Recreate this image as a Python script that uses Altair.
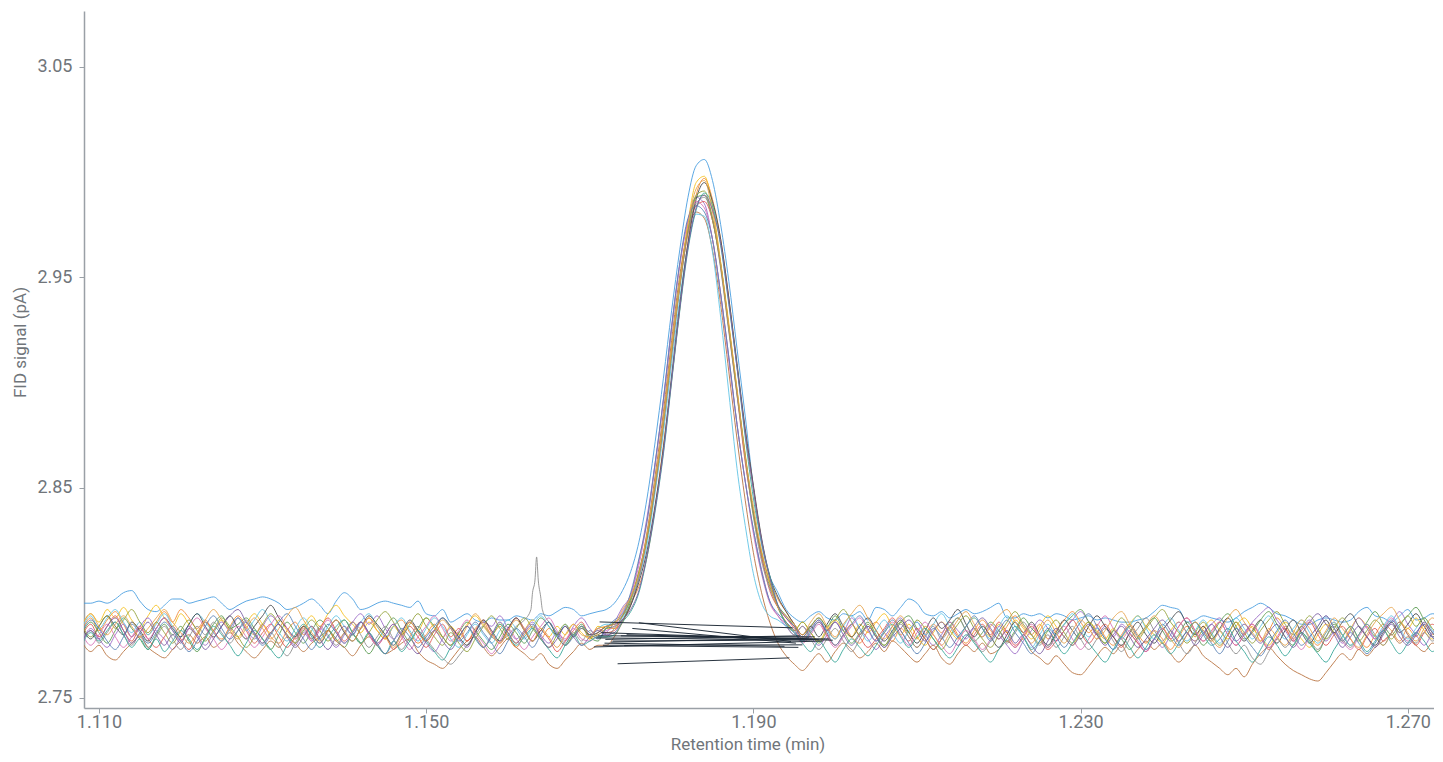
import altair as alt
import pandas as pd

# sampling grid of the chromatograms (min)
T_START = 1.108
T_STEP = 0.001
N_PTS = 167
times = [round(T_START + T_STEP * i, 3) for i in range(N_PTS)]

# FID signal, in units of 0.001 pA above 2.700 pA
tr01 = [95,95,96,95,97,100,101,96,92,91,
        94,97,97,95,96,97,98,95,92,94,
        96,97,98,97,95,92,93,95,97,94,
        90,96,100,97,92,93,95,96,95,94,
        93,96,90,89,92,86,88,90,87,86,
        88,87,87,89,88,87,90,89,91,93,
        92,89,90,91,92,95,101,110,124,145,
        172,202,234,263,288,303,306,296,275,248,
        216,184,150,123,108,100,92,88,86,89,
        91,88,87,90,89,91,87,93,92,89,
        93,97,95,90,89,91,88,90,92,90,
        91,93,95,88,88,90,89,90,88,90,
        89,87,88,89,87,88,87,86,86,87,
        88,91,94,93,92,86,87,89,88,87,
        86,88,91,93,95,93,90,89,87,85,
        85,87,88,87,86,87,91,93,89,88,
        86,89,92,87,88,90,89]
tr02 = [83,88,82,87,91,85,79,84,80,86,
        91,86,92,88,83,87,81,78,84,89,
        84,80,85,79,76,82,86,80,84,78,
        82,77,81,86,83,88,82,78,84,87,
        81,76,80,85,79,75,81,77,83,86,
        80,84,79,74,80,84,78,83,79,75,
        80,84,78,81,84,83,86,95,103,117,
        141,170,201,235,267,289,297,287,268,240,
        208,177,150,125,107,97,91,85,80,84,
        88,83,78,84,79,76,82,86,81,77,
        83,79,74,80,85,81,86,80,76,82,
        87,82,78,84,89,84,80,85,78,82,
        87,91,86,81,85,79,75,80,85,80,
        76,82,78,73,79,84,79,84,78,74,
        80,86,80,84,77,82,88,83,78,84,
        79,75,81,86,80,84,78,74,80,85,
        82,77,83,79,85,80,84]
tr03 = [85,90,86,92,88,93,87,83,89,94,
        88,84,90,85,80,86,82,87,83,79,
        85,90,85,81,87,82,78,84,89,84,
        90,94,89,85,81,86,82,78,84,80,
        86,82,88,83,79,84,80,85,89,84,
        80,85,81,76,82,87,83,79,84,80,
        85,81,78,84,83,83,89,98,109,126,
        152,181,216,247,276,295,298,284,257,228,
        196,164,137,119,105,93,86,82,86,81,
        77,83,87,82,79,85,81,86,90,84,
        80,85,79,75,81,86,82,78,84,88,
        83,79,85,81,87,83,78,84,89,84,
        79,75,81,86,82,78,83,79,85,89,
        84,80,76,82,86,81,77,83,87,82,
        78,84,88,83,79,75,81,86,82,78,
        74,80,85,81,77,83,88,84,79,75,
        81,86,83,88,82,78,84]
tr04 = [77,83,78,74,80,85,79,84,88,82,
        78,73,79,84,80,75,81,86,82,88,
        83,78,84,89,85,80,75,81,77,83,
        79,74,80,86,90,85,89,83,78,82,
        86,81,76,72,78,83,78,74,81,86,
        84,89,83,78,82,86,80,76,81,77,
        84,88,83,79,81,86,93,99,115,136,
        162,192,227,256,277,288,285,268,242,212,
        180,153,130,111,96,89,84,80,84,79,
        75,80,86,82,88,83,78,73,79,84,
        88,83,86,80,75,80,86,82,78,83,
        79,85,80,75,71,77,82,87,83,77,
        82,87,91,86,80,84,79,85,81,76,
        72,78,74,80,86,81,77,81,85,88,
        82,77,81,86,90,93,87,82,77,83,
        87,82,77,81,76,82,88,83,78,82,
        86,91,85,80,75,81,86]
tr05 = [81,86,81,76,82,88,83,78,73,80,
        85,80,84,77,72,79,85,89,83,85,
        88,83,78,73,80,86,81,76,82,87,
        83,78,74,80,76,71,77,83,88,82,
        77,83,88,84,79,75,81,86,82,77,
        73,79,85,81,76,82,88,84,79,75,
        80,85,79,77,83,84,87,96,110,127,
        151,182,214,245,272,288,289,277,256,226,
        195,165,138,117,103,94,89,84,79,84,
        88,84,89,82,76,81,86,80,75,80,
        86,89,83,78,73,78,84,88,82,77,
        81,86,82,77,82,88,83,79,74,80,
        85,89,92,86,80,76,82,78,73,79,
        84,88,82,77,80,86,81,75,80,86,
        90,84,78,81,87,91,85,79,75,81,
        77,72,79,85,80,75,80,86,91,85,
        80,85,89,93,87,81,77]
tr06 = [76,72,75,70,68,72,76,79,74,71,
        69,73,77,80,76,79,74,77,81,76,
        72,69,73,77,74,79,76,72,76,79,
        82,77,74,70,75,79,75,71,73,76,
        78,72,68,66,64,68,73,77,79,74,
        70,74,78,74,71,68,71,66,64,68,
        72,76,73,75,75,79,86,94,108,129,
        156,186,220,251,272,281,278,263,237,205,
        173,144,119,100,86,76,70,66,63,67,
        71,67,72,76,73,69,72,76,72,77,
        74,70,67,71,75,69,66,71,75,72,
        76,71,73,77,74,78,72,69,66,70,
        66,62,61,65,70,74,71,75,69,73,
        77,73,76,71,67,71,75,70,67,64,
        61,64,60,66,71,74,70,66,63,61,
        59,58,62,67,71,68,73,70,74,77,
        80,76,79,75,72,76,73]
tr07 = [80,85,79,84,89,82,77,83,78,74,
        79,84,78,73,80,86,82,77,83,88,
        82,76,81,85,79,74,79,84,78,83,
        88,82,77,82,86,80,75,79,73,78,
        84,79,74,80,85,79,83,77,82,87,
        81,76,82,88,83,77,82,78,72,77,
        82,86,80,83,81,82,89,97,107,126,
        150,181,213,246,271,284,286,277,255,225,
        194,162,138,117,101,93,88,83,78,82,
        86,80,75,80,85,79,74,78,83,88,
        82,77,83,78,73,78,84,79,75,80,
        85,80,86,81,75,79,84,78,73,77,
        82,87,81,76,81,85,79,74,80,76,
        72,78,83,78,84,88,82,77,82,86,
        80,75,80,85,79,73,78,83,77,82,
        86,80,75,80,84,78,73,79,83,77,
        81,86,80,75,81,85,80]
tr08 = [84,89,83,88,92,86,81,86,80,85,
        90,84,79,85,90,86,81,77,83,88,
        82,87,92,86,81,77,83,88,83,78,
        84,89,84,80,86,90,84,79,84,88,
        82,77,83,88,84,78,74,80,85,80,
        76,82,87,83,78,84,89,84,79,85,
        80,84,79,83,85,85,88,97,107,123,
        148,176,209,240,265,280,279,262,231,195,
        159,132,109,95,89,87,84,81,77,82,
        87,82,78,84,89,83,77,82,87,81,
        76,82,86,80,85,90,84,79,84,88,
        83,78,84,89,84,79,74,80,85,80,
        85,90,84,79,83,78,73,79,84,89,
        83,78,84,88,82,77,82,87,81,76,
        82,88,83,78,84,89,83,78,83,87,
        81,76,81,86,80,75,80,85,79,84,
        89,83,78,83,88,82,77]
tr09 = [77,82,76,81,86,80,75,80,74,79,
        84,78,73,79,84,80,86,81,76,82,
        87,81,76,81,75,70,76,82,78,84,
        80,75,81,86,80,74,79,84,78,73,
        79,84,78,73,69,66,70,75,80,84,
        79,77,80,84,87,100,98,86,81,76,
        81,77,82,79,79,83,89,94,107,126,
        150,179,213,246,271,285,288,278,254,224,
        194,164,136,115,102,93,85,80,84,78,
        73,78,83,77,72,78,84,79,74,80,
        85,79,74,79,84,78,83,88,82,77,
        72,77,82,76,81,86,80,75,80,74,
        79,84,78,73,78,83,77,72,78,83,
        88,82,77,82,76,71,76,82,77,82,
        76,71,75,69,66,72,78,74,79,84,
        78,73,79,84,78,74,80,85,80,75,
        81,86,80,76,81,77,83]
tr10 = [83,78,84,89,84,80,86,82,77,83,
        88,83,79,85,90,84,79,84,89,83,
        78,84,89,94,88,83,79,84,80,76,
        82,87,81,77,83,89,85,80,75,81,
        87,82,77,82,88,84,79,75,81,87,
        82,77,83,88,82,77,82,86,80,84,
        79,83,80,81,84,85,87,94,105,120,
        142,169,203,237,266,287,295,286,268,240,
        209,178,151,126,108,98,91,85,80,84,
        79,85,90,84,79,84,88,82,77,82,
        87,81,76,82,88,83,87,92,85,79,
        84,79,74,80,86,81,86,80,75,81,
        87,82,78,84,89,84,79,75,81,86,
        80,76,82,87,91,85,80,84,78,83,
        88,82,77,82,87,81,76,82,87,81,
        76,82,87,81,86,90,84,79,75,81,
        86,81,85,90,84,79,83]
tr11 = [80,75,80,85,79,74,79,84,78,83,
        88,82,77,83,88,83,78,73,78,84,
        79,74,79,85,89,83,78,83,77,82,
        87,81,76,81,86,80,75,80,85,79,
        73,79,84,89,83,77,82,87,81,76,
        71,77,83,78,73,79,84,88,82,78,
        83,78,77,80,82,84,91,99,113,134,
        161,191,225,256,277,286,283,268,242,210,
        180,153,128,109,95,89,85,81,76,80,
        85,79,74,79,84,88,82,77,81,86,
        80,75,81,86,80,75,71,77,82,78,
        73,78,84,79,74,80,85,79,74,79,
        84,78,73,78,84,89,83,78,82,77,
        72,78,83,78,84,88,82,77,81,86,
        80,75,80,85,79,74,79,84,78,73,
        79,84,89,83,77,73,79,84,78,83,
        88,82,77,81,85,79,74]
tr12 = [84,79,84,89,83,87,92,86,81,86,
        81,76,82,87,82,77,82,88,84,79,
        74,79,85,90,85,80,76,82,87,82,
        77,82,87,81,76,81,87,91,86,80,
        85,90,84,79,75,81,76,72,78,84,
        89,83,78,83,88,83,78,74,80,85,
        80,84,79,80,83,86,89,97,110,126,
        152,181,215,248,273,289,291,278,256,226,
        196,166,138,119,105,93,86,82,86,81,
        76,82,87,92,86,80,85,79,75,81,
        86,81,87,83,78,73,79,85,89,83,
        78,74,80,86,91,85,80,76,82,87,
        81,76,82,86,81,76,82,88,83,78,
        83,88,92,86,81,76,81,86,80,75,
        80,86,81,76,82,87,91,85,80,84,
        89,83,78,83,88,83,77,82,87,83,
        78,84,89,84,88,83,79]
tr13 = [76,81,77,82,86,80,74,78,73,78,
        72,77,82,78,73,78,84,80,75,70,
        76,82,78,73,69,75,80,85,79,74,
        79,84,87,81,76,81,75,71,77,72,
        77,82,77,72,68,74,79,84,78,74,
        79,85,80,75,79,83,78,73,69,75,
        80,75,77,79,79,80,86,91,100,117,
        139,166,200,234,263,282,290,284,265,237,
        207,174,145,124,108,94,85,81,76,72,
        77,72,67,73,78,74,70,75,81,85,
        79,74,79,83,78,73,69,74,80,76,
        71,67,73,78,84,79,73,77,82,76,
        71,76,81,76,71,67,73,79,74,69,
        74,80,76,71,76,82,86,80,75,78,
        83,77,72,67,73,79,75,70,75,81,
        76,71,67,73,79,84,78,72,77,82,
        76,71,76,81,77,72,77]
tr14 = [82,87,83,77,73,79,85,81,76,81,
        86,82,77,72,77,84,89,83,78,82,
        86,80,75,80,86,90,84,78,73,79,
        85,81,76,81,86,81,76,71,77,83,
        79,74,79,84,88,83,77,81,86,81,
        76,71,77,83,79,74,80,86,80,75,
        79,84,81,78,83,87,90,100,116,134,
        162,192,226,257,278,284,281,268,242,212,
        180,153,130,110,96,90,86,82,77,81,
        86,81,75,80,85,89,83,77,82,87,
        82,76,71,76,83,79,74,79,84,89,
        83,77,82,87,81,76,71,77,83,79,
        74,80,86,90,84,78,73,79,84,79,
        73,78,85,80,75,80,86,81,76,71,
        77,83,79,74,70,76,82,87,81,75,
        79,84,89,83,77,81,76,71,76,82,
        87,82,76,81,85,79,74]
tr15 = [85,90,84,80,85,89,84,79,83,88,
        92,86,81,76,81,87,92,87,82,78,
        83,88,83,78,83,89,93,87,81,77,
        82,87,82,77,83,88,84,79,74,80,
        86,81,77,82,87,83,78,84,90,85,
        80,76,82,87,82,77,83,79,74,80,
        85,80,79,83,84,85,92,98,109,128,
        153,182,216,247,275,292,296,281,257,227,
        197,165,141,120,104,93,89,85,80,86,
        90,84,79,85,90,94,88,82,78,84,
        89,83,78,84,80,75,81,87,91,85,
        79,84,89,92,86,81,76,82,87,81,
        76,82,87,83,78,82,88,91,85,79,
        84,89,84,78,74,80,86,82,77,82,
        88,92,86,81,77,83,79,75,81,87,
        83,77,82,88,83,78,74,80,86,90,
        93,87,81,77,83,88,83]
tr16 = [77,82,78,84,88,82,76,81,86,80,
        75,80,76,83,79,73,78,84,89,92,
        86,81,76,81,85,79,74,79,84,78,
        73,79,84,80,86,81,76,80,85,80,
        75,71,77,82,77,73,79,84,79,74,
        80,86,81,76,81,85,79,74,78,84,
        79,75,79,82,80,81,87,92,101,118,
        140,167,201,235,264,283,289,282,266,238,
        207,176,149,125,107,94,88,84,79,83,
        87,82,86,80,75,80,84,79,74,79,
        83,87,82,77,82,86,80,75,79,84,
        88,83,78,82,76,80,75,71,77,83,
        79,75,80,85,80,75,80,84,79,74,
        78,83,87,82,77,81,75,80,85,79,
        74,80,85,80,76,81,85,79,74,80,
        86,90,85,80,74,79,84,79,74,80,
        85,79,75,80,86,81,77]

run_names = ["Run %02d" % k for k in range(1, 17)]
run_colors = ["#4a9fe0", "#f28c38", "#f5c01e", "#9b6bc6", "#5b9b52", "#b97443",
              "#e05a55", "#62c4e6", "#8f8f8f", "#474a4f", "#d873b8", "#93a23b",
              "#38a79a", "#5a82b5", "#e6a24a", "#7b5ea3"]
run_values = [tr01, tr02, tr03, tr04, tr05, tr06, tr07, tr08,
              tr09, tr10, tr11, tr12, tr13, tr14, tr15, tr16]

# extra, denser samples on the small spike of run 09
spike_t = [1.1628, 1.1633, 1.1635, 1.1637, 1.1642]
spike_v = [92, 106, 117, 106, 92]

# integration baselines drawn under the peak (pA)
base_t1 = [1.1712, 1.1734, 1.1705, 1.1745, 1.1718, 1.1728, 1.1710, 1.1752,
           1.1716, 1.1738, 1.1708, 1.1760, 1.1726, 1.1714, 1.1742, 1.1719]
base_v1 = [2.7861, 2.7662, 2.7742, 2.7800, 2.7760, 2.7770, 2.7795, 2.7830,
           2.7750, 2.7795, 2.7785, 2.7857, 2.7765, 2.7810, 2.7748, 2.7778]
base_t2 = [1.1948, 1.1944, 1.1985, 1.1962, 1.1938, 1.1970, 1.1975, 1.1952,
           1.1960, 1.1993, 1.1980, 1.1946, 1.1968, 1.1997, 1.1955, 1.1957]
base_v2 = [2.7833, 2.7690, 2.7770, 2.7782, 2.7745, 2.7775, 2.7790, 2.7760,
           2.7752, 2.7780, 2.7776, 2.7768, 2.7785, 2.7774, 2.7740, 2.7795]

for nm, vals in zip(run_names, run_values):
    assert len(vals) == N_PTS, (nm, len(vals))

rows = []
for nm, vals in zip(run_names, run_values):
    for t, v in zip(times, vals):
        rows.append({"t": t, "signal": round(2.7 + v / 1000.0, 4), "run": nm})
for t, v in zip(spike_t, spike_v):
    rows.append({"t": t, "signal": round(2.7 + v / 1000.0, 4), "run": "Run 09"})
df = pd.DataFrame(rows)

seg = pd.DataFrame({"t1": base_t1, "v1": base_v1, "t2": base_t2, "v2": base_v2})

AX = "#9aa0a6"
TXT = "#70757a"
FONT = "Roboto"

xscale = alt.Scale(domain=[1.10817, 1.2732], nice=False, zero=False)
yscale = alt.Scale(domain=[2.74517, 3.0766], nice=False, zero=False)

xaxis = alt.Axis(values=[1.11, 1.15, 1.19, 1.23, 1.27], format=".3f",
                 title="Retention time (min)", grid=False,
                 domainColor=AX, domainWidth=1.5, tickColor=AX, tickSize=5,
                 labelColor=TXT, labelFont=FONT, labelFontSize=18, labelPadding=0,
                 titleColor=TXT, titleFont=FONT, titleFontSize=17,
                 titleFontWeight="normal", titleX=663.5, titleY=41.5,
                 titleBaseline="alphabetic", titleAlign="center")
yaxis = alt.Axis(values=[2.75, 2.85, 2.95, 3.05], format=".2f",
                 title="FID signal (pA)", grid=False,
                 domainColor=AX, domainWidth=1.5, tickColor=AX, tickSize=5,
                 labelColor=TXT, labelFont=FONT, labelFontSize=18, labelPadding=7,
                 titleColor=TXT, titleFont=FONT, titleFontSize=17,
                 titleFontWeight="normal", titleX=-64, titleY=331,
                 titleAngle=-90, titleBaseline="middle", titleAlign="center")

lines = alt.Chart(df).mark_line(strokeWidth=1, opacity=0.9, clip=True,
                                interpolate="monotone").encode(
    x=alt.X("t:Q", scale=xscale, axis=xaxis),
    y=alt.Y("signal:Q", scale=yscale, axis=yaxis),
    color=alt.Color("run:N", scale=alt.Scale(domain=run_names, range=run_colors),
                    legend=None),
    order=alt.Order("t:Q"),
)

baselines = alt.Chart(seg).mark_rule(color="#1c2835", strokeWidth=1, opacity=0.95,
                                     clip=True).encode(
    x=alt.X("t1:Q", scale=xscale),
    y=alt.Y("v1:Q", scale=yscale),
    x2="t2:Q",
    y2="v2:Q",
)

chart = alt.layer(lines, baselines).properties(
    width=1350, height=697,
    autosize=alt.AutoSizeParams(type="none"),
    padding={"left": 76, "top": 3, "right": 0, "bottom": 46},
    background="white",
).configure_view(stroke=None)

chart.save("out.html", embed_options={"renderer": "svg", "actions": False})
